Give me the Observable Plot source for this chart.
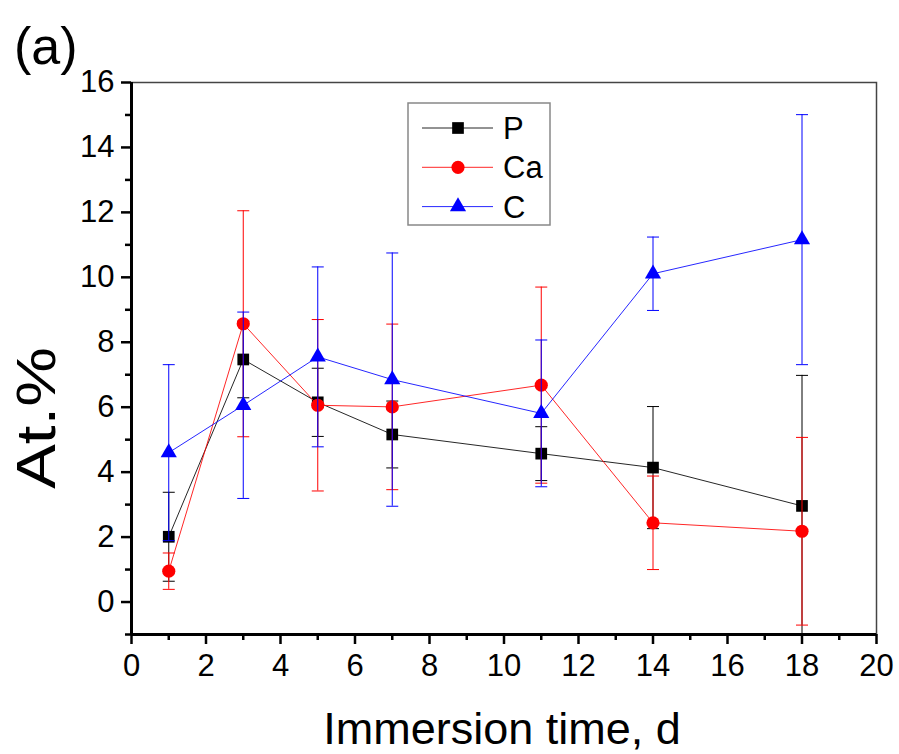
<!DOCTYPE html>
<html>
<head>
<meta charset="utf-8">
<script src="https://cdn.jsdelivr.net/npm/d3@7"></script>
<script src="https://cdn.jsdelivr.net/npm/@observablehq/plot@0.6"></script>
<style>
  html, body { margin: 0; padding: 0; background: #fff; }
  #chart { width: 899px; height: 754px; }
</style>
</head>
<body>
<div id="chart"></div>
<script>
// ---- data ----
const days = [1, 3, 5, 7, 11, 14, 18];
const pValues  = [2.01, 7.47, 6.15, 5.16, 4.57, 4.14, 2.96];
const pErrors  = [1.37, 1.18, 1.05, 1.03, 0.83, 1.88, 4.02];
const caValues = [0.95, 8.57, 6.06, 6.01, 6.68, 2.44, 2.18];
const caErrors = [0.56, 3.48, 2.64, 2.55, 3.02, 1.44, 2.89];
const cValues  = [4.60, 6.06, 7.55, 6.85, 5.81, 10.11, 11.16];
const cErrors  = [2.71, 2.87, 2.77, 3.90, 2.26, 1.13, 3.85];

const seriesNames = ["P", "Ca", "C"];
const seriesColors = ["#000000", "#ff0000", "#0000ff"];
const seriesSymbols = ["square", "circle", "triangle"];
const seriesR = [6.6, 6.6, 6.0];

const xTicks = [0, 2, 4, 6, 8, 10, 12, 14, 16, 18, 20];
const xMinorTicks = [1, 3, 5, 7, 9, 11, 13, 15, 17, 19];
const yTicks = [0, 2, 4, 6, 8, 10, 12, 14, 16];
const yMinorTicks = [-1, 1, 3, 5, 7, 9, 11, 13, 15];
const xDomain = [0, 20];
const yDomain = [-1, 16];

const xTitle = "Immersion time, d";
const yTitle = "At.%";
const panelLabel = "(a)";

// ---- build tables ----
const valueArrays = [pValues, caValues, cValues];
const errorArrays = [pErrors, caErrors, cErrors];
const series = seriesNames.map((name, s) => ({
  name,
  color: seriesColors[s],
  symbol: seriesSymbols[s],
  r: seriesR[s],
  rows: days.map((d, i) => ({
    x: d, y: valueArrays[s][i],
    lo: valueArrays[s][i] - errorArrays[s][i],
    hi: valueArrays[s][i] + errorArrays[s][i]
  }))
}));

const capSymbol = { draw(ctx) { ctx.moveTo(-6, 0); ctx.lineTo(6, 0); } };

const seriesMarks = series.flatMap(s => [
  Plot.line(s.rows, { x: "x", y: "y", stroke: s.color, strokeWidth: 1, strokeOpacity: 0.85 }),
  Plot.ruleX(s.rows, { x: "x", y1: "lo", y2: "hi", stroke: s.color, strokeWidth: 1, clip: true }),
  Plot.dot(s.rows, { x: "x", y: "lo", symbol: capSymbol, fill: "none", stroke: s.color, strokeWidth: 1, clip: true }),
  Plot.dot(s.rows, { x: "x", y: "hi", symbol: capSymbol, fill: "none", stroke: s.color, strokeWidth: 1, clip: true }),
  Plot.dot(s.rows, { x: "x", y: "y", symbol: s.symbol, r: s.r, fill: s.color, stroke: "none" })
]);

const svg = Plot.plot({
  width: 899,
  height: 754,
  marginLeft: 131,
  marginRight: 23,
  marginTop: 82,
  marginBottom: 120,
  x: { domain: xDomain },
  y: { domain: yDomain },
  style: { fontFamily: "Liberation Sans, Arial, sans-serif", fontSize: "31px", background: "#fff", color: "#000", overflow: "visible" },
  marks: [
    Plot.frame({ stroke: "#444", strokeWidth: 1.5 }),
    Plot.ruleX([xDomain[0]], { stroke: "#000", strokeWidth: 3 }),
    Plot.ruleY([yDomain[0]], { stroke: "#000", strokeWidth: 3 }),
    Plot.axisY(yTicks, { tickSize: 10, tickPadding: 7, strokeWidth: 2.5, fontSize: 31, label: null }),
    Plot.axisY(yMinorTicks, { tickSize: 6, strokeWidth: 2.5, tickFormat: () => "", label: null }),
    Plot.axisX(xTicks, { tickSize: 10, tickPadding: 9, strokeWidth: 2.5, fontSize: 31, label: null }),
    Plot.axisX(xMinorTicks, { tickSize: 6, strokeWidth: 2.5, tickFormat: () => "", label: null }),
    ...seriesMarks
  ]
});

document.getElementById("chart").appendChild(svg);

// ---- titles and legend ----
const root = d3.select(svg);
const font = "Liberation Sans, Arial, sans-serif";

root.append("text")
  .attr("x", 502).attr("y", 744)
  .attr("text-anchor", "middle")
  .attr("font-family", font).attr("font-size", 45)
  .attr("fill", "#000")
  .text(xTitle);

root.append("text")
  .attr("transform", "translate(55,418) rotate(-90) scale(1.2,1)")
  .attr("text-anchor", "middle")
  .attr("font-family", font).attr("font-size", 56)
  .attr("fill", "#000")
  .text(yTitle);

root.append("text")
  .attr("x", 14).attr("y", 64)
  .attr("text-anchor", "start")
  .attr("font-family", font).attr("font-size", 52)
  .attr("fill", "#000")
  .text(panelLabel);

const lg = root.append("g");
lg.append("rect")
  .attr("x", 408).attr("y", 103).attr("width", 142).attr("height", 122)
  .attr("fill", "#fff").attr("stroke", "#888").attr("stroke-width", 1.5);

const symMap = { square: d3.symbolSquare, circle: d3.symbolCircle, triangle: d3.symbolTriangle };
series.forEach((s, i) => {
  const cy = 128 + i * 39.3;
  lg.append("line")
    .attr("x1", 422).attr("x2", 493).attr("y1", cy).attr("y2", cy)
    .attr("stroke", s.color).attr("stroke-width", 1).attr("stroke-opacity", 0.85);
  lg.append("path")
    .attr("transform", `translate(458,${cy})`)
    .attr("d", d3.symbol(symMap[s.symbol], s.r * s.r * Math.PI)())
    .attr("fill", s.color);
  lg.append("text")
    .attr("x", 503).attr("y", cy + 11)
    .attr("text-anchor", "start")
    .attr("font-family", font).attr("font-size", 31)
    .attr("fill", "#000")
    .text(s.name);
});
</script>
</body>
</html>
